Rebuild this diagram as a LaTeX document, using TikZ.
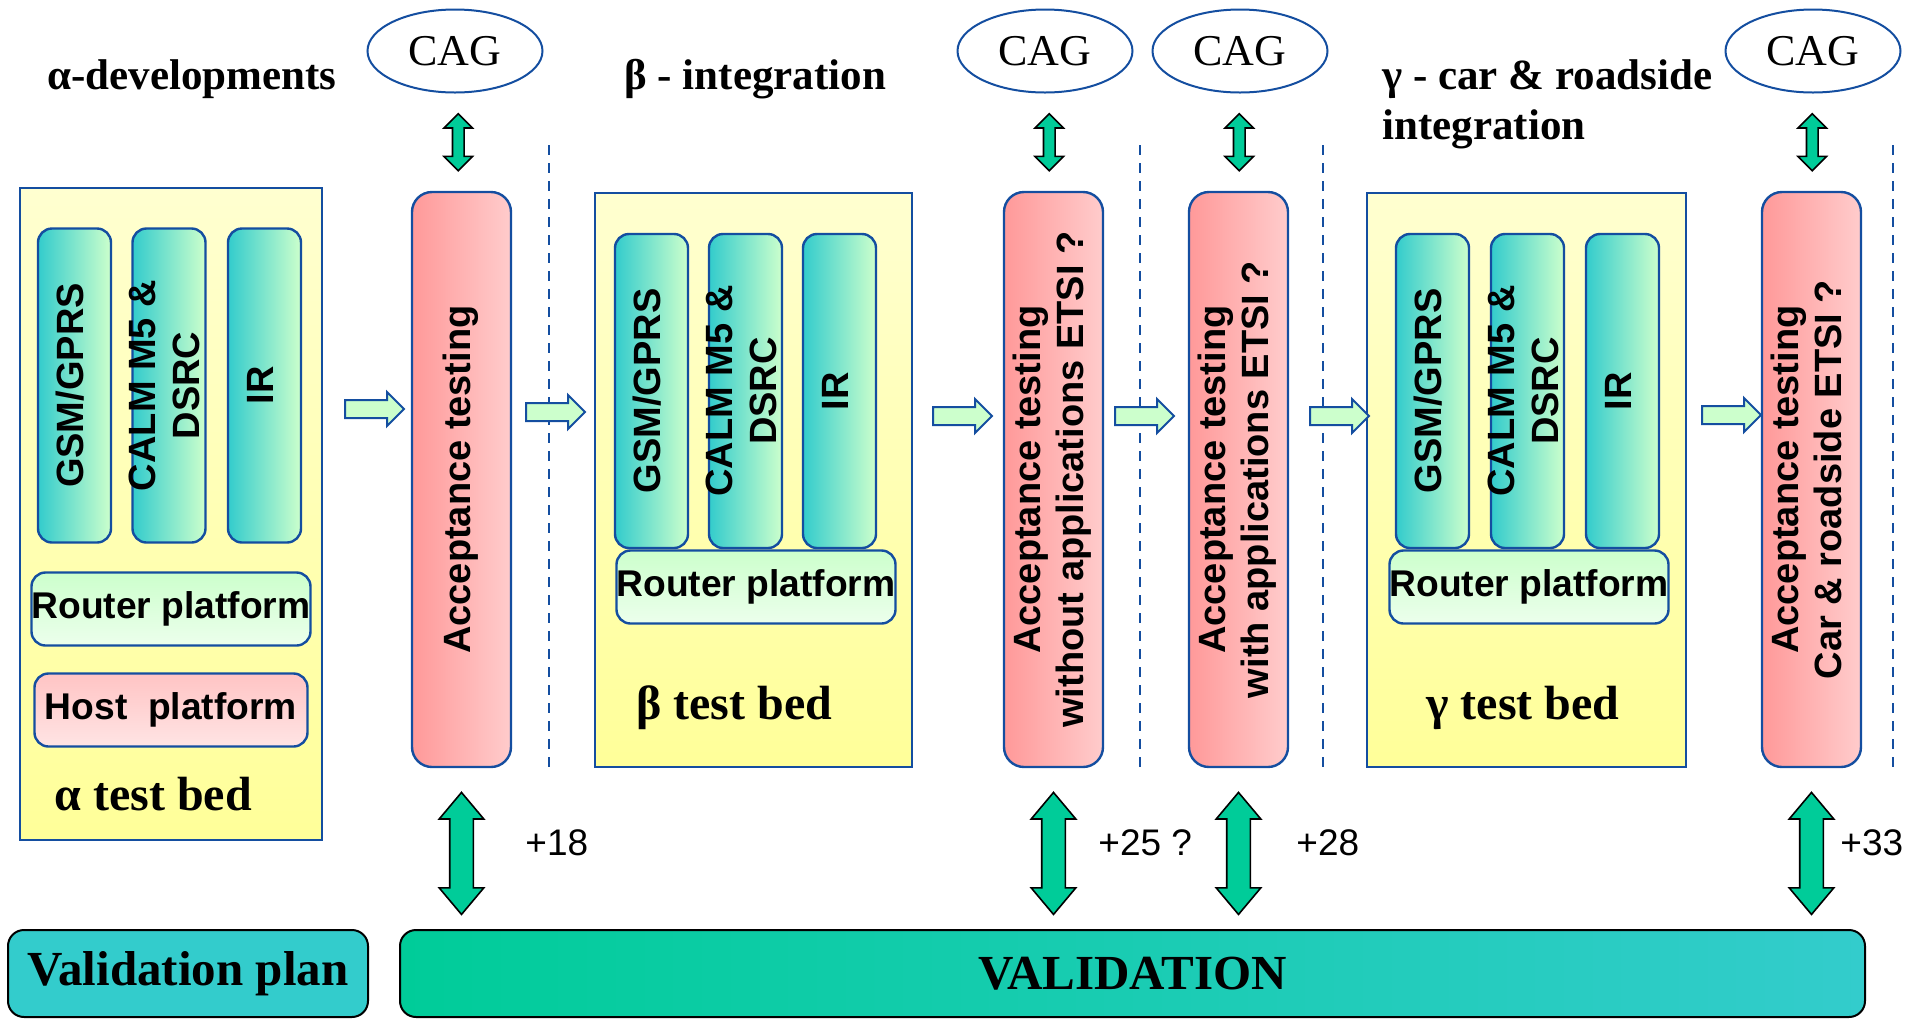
\documentclass[tikz,border=0pt]{standalone}
\usepackage{fontspec}
\setmainfont{Liberation Serif}
\setsansfont{Liberation Sans}
\usepackage{graphicx}
\usepackage{tikz}
\usetikzlibrary{calc,shapes.geometric,shapes.arrows}

\definecolor{edgeblue}{RGB}{20,78,160}
\definecolor{bedlight}{RGB}{255,255,208}
\definecolor{bedyellow}{RGB}{255,255,153}
\definecolor{radioteal}{RGB}{51,204,204}
\definecolor{radiomint}{RGB}{204,255,204}
\definecolor{routerlight}{RGB}{236,255,236}
\definecolor{hostpink}{RGB}{255,196,196}
\definecolor{hostlight}{RGB}{255,228,228}
\definecolor{acceptred}{RGB}{255,153,153}
\definecolor{acceptpink}{RGB}{255,204,204}
\definecolor{linkgreen}{RGB}{0,204,153}
\definecolor{planteal}{RGB}{51,204,204}

\newcommand\vlabel[1]{\makebox[0pt]{\rotatebox{90}{\begin{tabular}{@{}c@{}}#1\end{tabular}}}}

\begin{document}
\begin{tikzpicture}[x=0.5pt,y=-0.5pt,
  bedbox/.style={draw=edgeblue,line width=1.2pt,top color=bedlight,bottom color=bedyellow,inner sep=0pt},
  radiobox/.style={draw=edgeblue,line width=1.2pt,rounded corners=7pt,left color=radioteal,right color=radiomint,
    minimum width=36.5pt,minimum height=157pt,inner sep=0pt,font=\sffamily\bfseries\fontsize{19}{22}\selectfont},
  routerbox/.style={draw=edgeblue,line width=1.2pt,rounded corners=7pt,top color=radiomint,bottom color=routerlight,
    minimum width=136.5pt,minimum height=36.5pt,inner sep=0pt,font=\sffamily\bfseries\fontsize{18.6}{21}\selectfont},
  hostbox/.style={routerbox,top color=hostpink,bottom color=hostlight},
  acceptbox/.style={draw=edgeblue,line width=1.2pt,rounded corners=10pt,left color=acceptred,right color=acceptpink,
    minimum width=49.5pt,minimum height=287.5pt,inner sep=0pt,font=\sffamily\bfseries\fontsize{19}{21.5}\selectfont},
  cagnode/.style={ellipse,draw=edgeblue,line width=1pt,minimum width=87.5pt,minimum height=41.5pt,inner sep=0pt,
    font=\fontsize{22}{24}\selectfont},
  phasetext/.style={font=\bfseries\fontsize{21.5}{25}\selectfont,inner sep=0pt,align=left},
  bedname/.style={font=\bfseries\fontsize{24}{26}\selectfont,inner sep=0pt,anchor=base west},
  flowarrow/.style={single arrow,draw=edgeblue,fill=radiomint,line width=1pt,minimum height=29.5pt,
    inner xsep=0pt,inner ysep=4pt,single arrow head extend=4pt,single arrow tip angle=90},
  linkarrow/.style={double arrow,draw=black,fill=linkgreen,line width=0.8pt,rotate=90,minimum height=61pt,
    inner xsep=0pt,inner ysep=5.5pt,double arrow head extend=5.25pt,double arrow tip angle=80},
  caglink/.style={linkarrow,minimum height=28.5pt,inner ysep=2.5pt,double arrow head extend=4.25pt,
    double arrow tip angle=90},
  monthtext/.style={font=\sffamily\fontsize{18.5}{20}\selectfont,inner sep=0pt,anchor=west},
  divider/.style={draw=edgeblue,line width=1.2pt,dash pattern=on 5pt off 4pt},
  valbox/.style={draw=black,line width=1pt,rounded corners=8pt,minimum height=43.5pt,inner sep=0pt,
    font=\bfseries\fontsize{24.5}{26}\selectfont}]
\useasboundingbox (0,0) rectangle (1919,1019);

\node[phasetext,anchor=base west] (alphahead) at (47,89) {α-developments};
\node[phasetext,anchor=base west] (betahead) at (624,89) {β - integration};
\node[phasetext,anchor=north west] (gammahead) at (1382,59) {γ - car \& roadside\\integration};

\node[bedbox,minimum width=151pt,minimum height=326pt] (alpha) at (171,514) {};
\node[radiobox] (alphagsm) at (74.5,385.5) {\vlabel{GSM/GPRS}};
\node[radiobox] (alphacalm) at (169,385.5) {\vlabel{CALM M5 \&\\DSRC}};
\node[radiobox] (alphair) at (264.5,385.5) {\vlabel{IR}};
\node[routerbox] (alpharouter) at (171,609) {Router platform};
\node[hostbox] (alphahost) at (171,710) {Host\ \ platform};
\node[bedname] (alphaname) at (54,810) {α test bed};

\node[bedbox,minimum width=158.5pt,minimum height=287pt] (beta) at (753.5,480) {};
\node[radiobox] (betagsm) at (651.5,391) {\vlabel{GSM/GPRS}};
\node[radiobox] (betacalm) at (745.5,391) {\vlabel{CALM M5 \&\\DSRC}};
\node[radiobox] (betair) at (839.5,391) {\vlabel{IR}};
\node[routerbox] (betarouter) at (756,587) {Router platform};
\node[bedname] (betaname) at (636,719) {β test bed};

\node[bedbox,minimum width=159.5pt,minimum height=287pt] (gamma) at (1526.5,480) {};
\node[radiobox] (gammagsm) at (1432.5,391) {\vlabel{GSM/GPRS}};
\node[radiobox] (gammacalm) at (1527.5,391) {\vlabel{CALM M5 \&\\DSRC}};
\node[radiobox] (gammair) at (1622.5,391) {\vlabel{IR}};
\node[routerbox] (gammarouter) at (1529,587) {Router platform};
\node[bedname] (gammaname) at (1426,719) {γ test bed};

\node[acceptbox] (accA) at (461.5,479.5) {\vlabel{Acceptance testing}};
\node[acceptbox] (accB) at (1053.5,479.5) {\vlabel{Acceptance testing\\without applications ETSI ?}};
\node[acceptbox] (accC) at (1238.5,479.5) {\vlabel{Acceptance testing\\with applications ETSI ?}};
\node[acceptbox] (accD) at (1811.5,479.5) {\vlabel{Acceptance testing\\Car \& roadside ETSI ?}};

\draw[divider] (549,145) -- (549,767);
\draw[divider] (1140,145) -- (1140,767);
\draw[divider] (1323,145) -- (1323,767);
\draw[divider] (1893,145) -- (1893,767);

\node[flowarrow] (flowA) at (370,409) {};
\node[flowarrow] (flowB) at (551,412) {};
\node[flowarrow] (flowC) at (958,416) {};
\node[flowarrow] (flowD) at (1140,416) {};
\node[flowarrow] (flowE) at (1335,416) {};
\node[flowarrow] (flowF) at (1727,415) {};

\node[cagnode] (cagA) at (455,51) {CAG};
\node[cagnode] (cagB) at (1045,51) {CAG};
\node[cagnode] (cagC) at (1240,51) {CAG};
\node[cagnode] (cagD) at (1813,51) {CAG};

\node[caglink] (cagAlink) at ($(cagA.south)!0.5!(accA.north)$) {};
\node[caglink] (cagBlink) at ($(cagB.south)!0.5!(accB.north)$) {};
\node[caglink] (cagClink) at ($(cagC.south)!0.5!(accC.north)$) {};
\node[caglink] (cagDlink) at ($(cagD.south)!0.5!(accD.north)$) {};

\node[valbox,fill=planteal,minimum width=180pt] (plan) at (188,973.5) {Validation plan};
\node[valbox,left color=linkgreen,right color=planteal,minimum width=732.5pt] (val) at (1132.5,973.5) {VALIDATION};

\node[linkarrow] (valA) at ($(accA.south)!0.53!(accA.south |- val.north)$) {};
\node[linkarrow] (valB) at ($(accB.south)!0.53!(accB.south |- val.north)$) {};
\node[linkarrow] (valC) at ($(accC.south)!0.53!(accC.south |- val.north)$) {};
\node[linkarrow] (valD) at ($(accD.south)!0.53!(accD.south |- val.north)$) {};

\node[monthtext] (monthA) at (525,843) {+18};
\node[monthtext] (monthB) at (1098,843) {+25 ?};
\node[monthtext] (monthC) at (1296,843) {+28};
\node[monthtext] (monthD) at (1840,843) {+33};
\end{tikzpicture}
\end{document}
